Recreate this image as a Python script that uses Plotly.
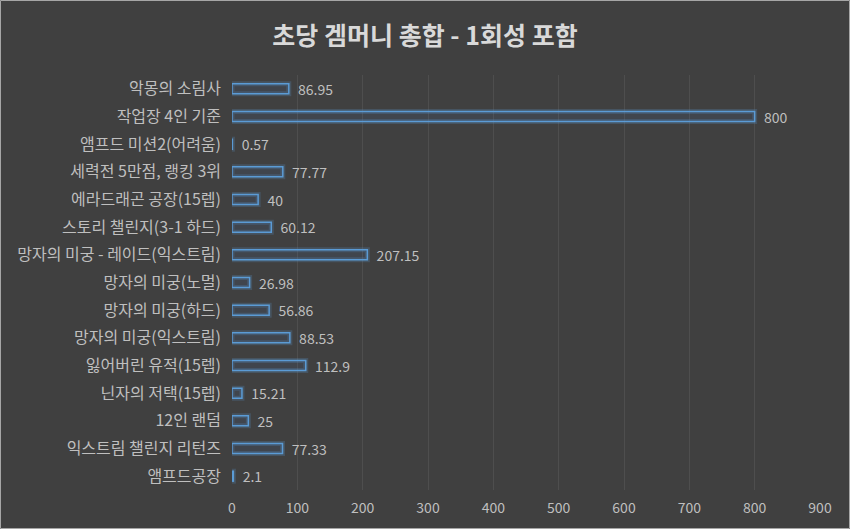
import plotly.graph_objects as go

categories = ["악몽의 소림사", "작업장 4인 기준", "앰프드 미션2(어려움)", "세력전 5만점, 랭킹 3위",
              "에라드래곤 공장(15렙)", "스토리 챌린지(3-1 하드)", "망자의 미궁 - 레이드(익스트림)",
              "망자의 미궁(노멀)", "망자의 미궁(하드)", "망자의 미궁(익스트림)", "잃어버린 유적(15렙)",
              "닌자의 저택(15렙)", "12인 랜덤", "익스트림 챌린지 리턴즈", "앰프드공장"]
values = [86.95, 800, 0.57, 77.77, 40, 60.12, 207.15, 26.98, 56.86, 88.53, 112.9, 15.21, 25, 77.33, 2.1]
labels = ["86.95", "800", "0.57", "77.77", "40", "60.12", "207.15", "26.98", "56.86", "88.53",
          "112.9", "15.21", "25", "77.33", "2.1"]
tickvals_x = [0, 100, 200, 300, 400, 500, 600, 700, 800, 900]

W, H = 850, 529
ml, mr, mt, mb = 232, 30, 75, 39
pw, ph = W - ml - mr, H - mt - mb

font = "Noto Sans CJK KR, Noto Sans, sans-serif"
fig = go.Figure()
# glow
fig.add_trace(go.Bar(y=categories, x=values, orientation="h",
                     marker=dict(color="rgba(0,0,0,0)", line=dict(color="rgba(91,155,213,0.22)", width=5)),
                     width=0.36, hoverinfo="skip", showlegend=False))
fig.add_trace(go.Bar(y=categories, x=values, orientation="h",
                     marker=dict(color="rgba(68,114,196,0.10)", line=dict(color="#5b9bd5", width=1.5)),
                     width=0.36, text=["\u00a0\u00a0" + t for t in labels], textposition="outside",
                     cliponaxis=False, constraintext="none",
                     textfont=dict(color="#bfbfbf", size=14, family=font), showlegend=False))

fig.update_layout(
    width=W, height=H, barmode="overlay",
    paper_bgcolor="#404040", plot_bgcolor="#404040",
    margin=dict(l=ml, r=mr, t=mt, b=mb),
    title=dict(text="<b>초당 겜머니 총합 - 1회성 포함</b>", x=0.5, xanchor="center", y=1 - 36 / H, yanchor="middle",
               font=dict(family=font, size=25, color="#d9d9d9")),
    font=dict(family=font, color="#bfbfbf", size=14),
    xaxis=dict(range=[0, 900], tickvals=tickvals_x, showgrid=True, gridcolor="#4e4e4e", gridwidth=1,
               zeroline=False, showline=False, tickfont=dict(size=14, color="#bfbfbf"), ticks="",
               ticklabelstandoff=8),
    yaxis=dict(categoryorder="array", categoryarray=categories[::-1], showgrid=False, ticks="",
               ticklabelstandoff=10, tickfont=dict(size=16, color="#bfbfbf"), showline=False),
    shapes=[dict(type="rect", xref="paper", yref="paper",
                 x0=-ml / pw + 0.5 / pw, x1=1 + (mr - 0.5) / pw,
                 y0=-mb / ph + 0.5 / ph, y1=1 + (mt - 0.5) / ph,
                 line=dict(color="#a6a6a6", width=1), layer="below")]
)
fig.write_html("out.html")
